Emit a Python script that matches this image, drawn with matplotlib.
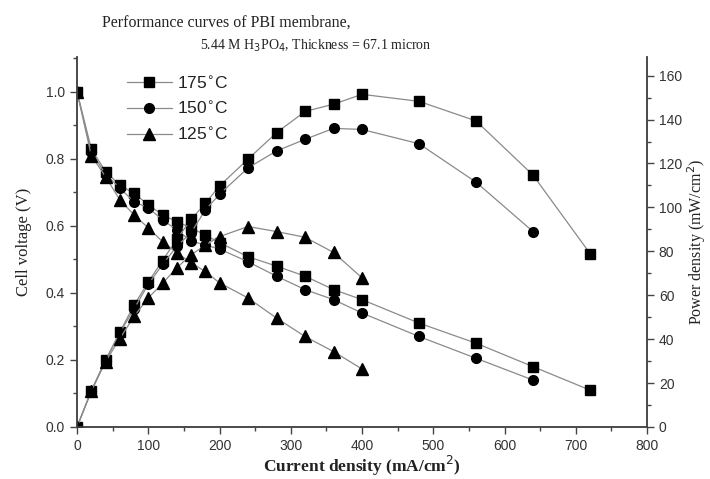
import matplotlib
matplotlib.use("Agg")
import matplotlib.pyplot as plt
from matplotlib.ticker import MultipleLocator

# ---- data ----
labels = ["175$^{\\circ}$C", "150$^{\\circ}$C", "125$^{\\circ}$C"]

I175 = [0, 20, 40, 60, 80, 100, 120, 140, 160, 180, 200, 240, 280, 320, 360, 400, 480, 560, 640, 720]
V175 = [1.0, 0.83, 0.762, 0.722, 0.697, 0.663, 0.633, 0.613, 0.594, 0.573, 0.55, 0.508, 0.48, 0.45, 0.41, 0.38, 0.31, 0.25, 0.18, 0.11]
P175 = [0, 16.6, 30.4, 43.2, 55.5, 66, 75.8, 85.5, 94.5, 101.8, 109.8, 122, 134, 143.7, 147, 151.5, 148.3, 139.4, 114.7, 79]

I150 = [0, 20, 40, 60, 80, 100, 120, 140, 160, 180, 200, 240, 280, 320, 360, 400, 480, 560, 640]
V150 = [1.0, 0.82, 0.755, 0.713, 0.672, 0.654, 0.618, 0.588, 0.555, 0.543, 0.531, 0.493, 0.45, 0.41, 0.38, 0.34, 0.27, 0.205, 0.14]
P150 = [0, 16.4, 30.2, 42.8, 53.8, 65, 74, 82.3, 88.5, 98.8, 106, 118, 125.7, 131, 136, 135.5, 129, 111.5, 89]

I125 = [0, 20, 40, 60, 80, 100, 120, 140, 160, 180, 200, 240, 280, 320, 360, 400]
V125 = [1.0, 0.81, 0.747, 0.678, 0.633, 0.594, 0.553, 0.52, 0.49, 0.464, 0.43, 0.385, 0.325, 0.27, 0.225, 0.173]
P125 = [0, 16.2, 29.8, 40.2, 50.4, 58.8, 65.4, 72.5, 78.4, 82.8, 86.7, 91.3, 89, 86.4, 79.5, 67.9]

x_ticks = [0, 100, 200, 300, 400, 500, 600, 700, 800]
v_ticks = [0.0, 0.2, 0.4, 0.6, 0.8, 1.0]
p_ticks = [0, 20, 40, 60, 80, 100, 120, 140, 160]

series = [
    (I175, V175, P175, "s", 6.5),
    (I150, V150, P150, "o", 7),
    (I125, V125, P125, "^", 8),
]

fig = plt.figure(figsize=(7.1, 4.79), dpi=100)
ax = fig.add_axes([0.1085, 0.1086, 0.8028, 0.7724])
ax2 = ax.twinx()

line_kw = dict(color="#8a8a8a", lw=0.9, mfc="black", mec="black")
handles = []
for (I, V, P, m, ms), lab in zip(series, labels):
    h, = ax.plot(I, V, marker=m, ms=ms, label=lab, **line_kw)
    ax2.plot(I, P, marker=m, ms=ms, **line_kw)
    handles.append(h)

ax.set_xlim(0, 800)
ax.set_ylim(0, 1.104)
ax2.set_ylim(0, 168.5)

spine_col = "#444444"
for a in (ax, ax2):
    a.spines["top"].set_visible(False)
    for s in a.spines.values():
        s.set_color(spine_col)
        s.set_linewidth(1.1)
    a.tick_params(which="major", direction="out", length=5, width=1, colors=spine_col, labelcolor="#333333")
    a.tick_params(which="minor", direction="out", length=3, width=1, colors=spine_col)

ax.set_xticks(x_ticks)
ax.xaxis.set_minor_locator(MultipleLocator(50))
ax.set_yticks(v_ticks)
ax.set_yticklabels([f"{v:.1f}" for v in v_ticks])
ax.yaxis.set_minor_locator(MultipleLocator(0.1))
ax2.set_yticks(p_ticks)
ax2.yaxis.set_minor_locator(MultipleLocator(10))
for lbl in ax.get_xticklabels() + ax.get_yticklabels() + ax2.get_yticklabels():
    lbl.set_fontfamily("Liberation Sans")
    lbl.set_fontsize(10)

ax.set_xlabel("Current density (mA/cm$^2$)", family="Liberation Serif", size=12.5,
              weight="bold", color="#222222", labelpad=1)
ax.set_ylabel("Cell voltage (V)", family="Liberation Serif", size=12, color="#222222", labelpad=10)
ax2.set_ylabel("Power density (mW/cm$^2$)", family="Liberation Serif", size=11.5, color="#222222", labelpad=2)

leg = ax.legend(handles=handles, loc="upper left", bbox_to_anchor=(0.06, 0.995), frameon=False,
                numpoints=1, handlelength=2.6, handletextpad=0.3, labelspacing=0.5,
                prop=dict(family="Liberation Sans", size=12.5))
for t in leg.get_texts():
    t.set_color("#222222")

fig.text(0.144, 0.953, "Performance curves of PBI membrane,", family="Liberation Serif",
         size=11.5, color="#222222", va="center", ha="left")
fig.text(0.282, 0.905, "5.44 M H$_3$PO$_4$, Thickness = 67.1 micron", family="Liberation Serif",
         size=10, color="#222222", va="center", ha="left")

fig.savefig("out.png", dpi=100)
